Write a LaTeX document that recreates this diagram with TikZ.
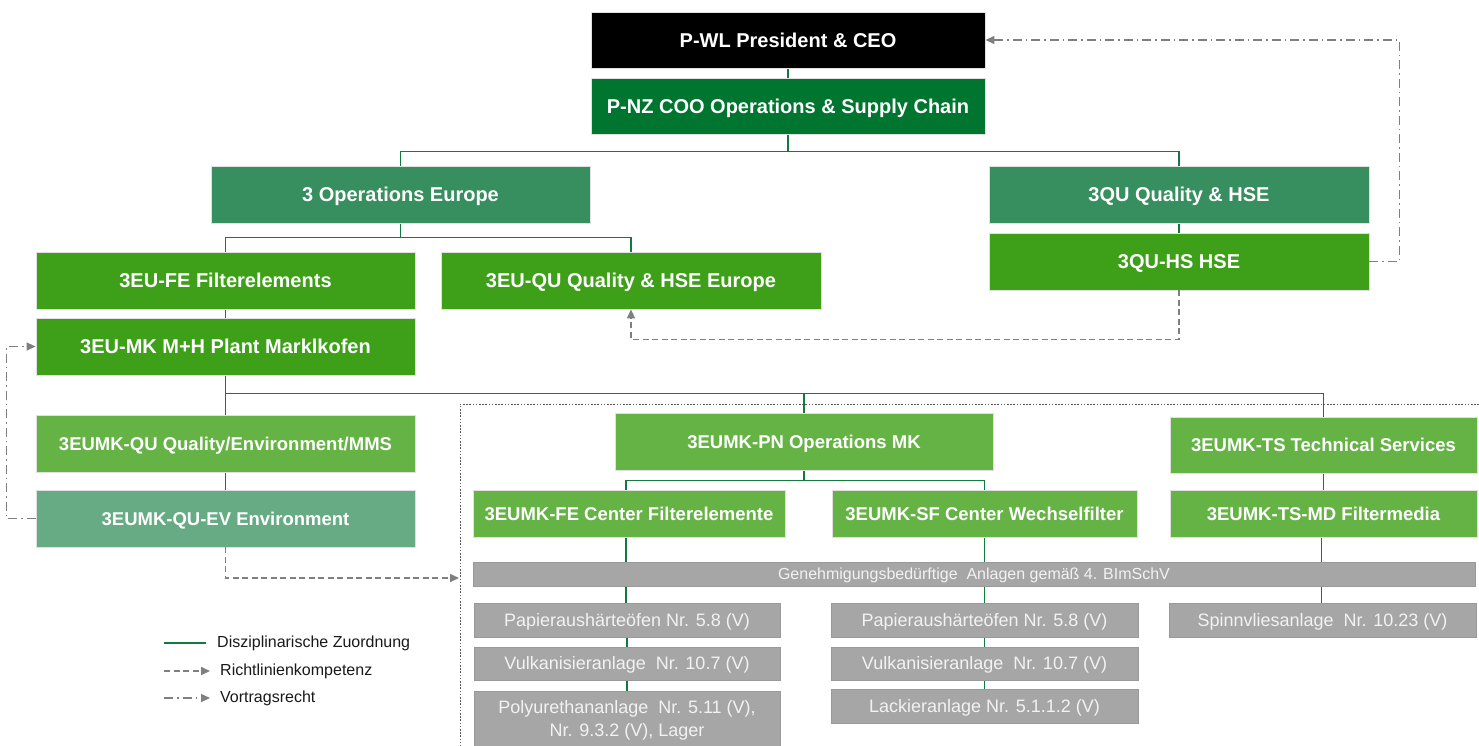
\documentclass[tikz,border=0pt]{standalone}
\usepackage{fontspec}
\setmainfont{Liberation Sans}
\usetikzlibrary{arrows.meta,backgrounds}

\definecolor{ceoblack}{HTML}{000000}
\definecolor{coogreen}{HTML}{007530}
\definecolor{divgreen}{HTML}{378E5E}
\definecolor{deptgreen}{HTML}{3EA018}
\definecolor{unitgreen}{HTML}{65B344}
\definecolor{envgreen}{HTML}{67AB85}
\definecolor{plantgrey}{HTML}{A6A6A6}
\definecolor{linegreen}{HTML}{127A3C}
\definecolor{arrowgrey}{HTML}{7F7F7F}
\definecolor{framegrey}{HTML}{595959}

\tikzset{
  orgbox/.style={draw=black!12, line width=0.8pt, text=white, inner sep=0pt, align=center,
    font=\fontsize{20}{24}\selectfont\bfseries, text height=14.3pt, text depth=0pt},
  unitbox/.style={orgbox, fill=unitgreen, font=\fontsize{18.5}{22}\selectfont\bfseries,
    text height=13.2pt, text depth=0pt},
  plantbase/.style={draw=black!40, line width=0.8pt, fill=plantgrey, text=white!95!black,
    inner sep=0pt, align=center, font=\fontsize{18}{23}\selectfont},
  plantbox/.style={plantbase, text height=12.9pt, text depth=0pt},
  orgline/.style={draw=linegreen, line width=1.5pt},
  policy/.style={draw=arrowgrey, line width=1.6pt, dash pattern=on 6pt off 3.5pt,
    -{Triangle[length=9pt,width=8pt]}},
  report/.style={draw=arrowgrey, line width=1.4pt, dash pattern=on 9pt off 4pt on 1.5pt off 4pt,
    -{Triangle[length=9pt,width=8pt]}},
  legendtext/.style={anchor=west, inner sep=0pt, text=black!90, font=\fontsize{16}{19}\selectfont,
    text height=11.5pt, text depth=0pt}
}

\begin{document}
\begin{tikzpicture}[x=1pt,y=-1pt]
\useasboundingbox (0,0) rectangle (1479,746);

% management levels
\node[orgbox, fill=ceoblack, minimum width=394, minimum height=56] (ceo) at (788,40) {P-WL President \& CEO};
\node[orgbox, fill=coogreen, minimum width=394, minimum height=56] (coo) at (788,106) {P-NZ COO Operations \& Supply Chain};
\node[orgbox, fill=divgreen, minimum width=379, minimum height=57] (ops) at (400.5,194.5) {3 Operations Europe};
\node[orgbox, fill=divgreen, minimum width=380, minimum height=57] (qu) at (1179,194.5) {3QU Quality \& HSE};
\node[orgbox, fill=deptgreen, minimum width=380, minimum height=57] (hse) at (1179,261.5) {3QU-HS HSE};
\node[orgbox, fill=deptgreen, minimum width=379, minimum height=57] (fe) at (225.5,280.5) {3EU-FE Filterelements};
\node[orgbox, fill=deptgreen, minimum width=380, minimum height=57] (euqu) at (631,280.5) {3EU-QU Quality \& HSE Europe};
\node[orgbox, fill=deptgreen, minimum width=379, minimum height=57] (mk) at (225.5,346.5) {3EU-MK M+H Plant Marklkofen};

% plant units
\node[unitbox, minimum width=379, minimum height=57] (mkqu) at (225.5,443.5) {3EUMK-QU Quality/Environment/MMS};
\node[unitbox, fill=envgreen, minimum width=379, minimum height=57] (ev) at (225.5,518.5) {3EUMK-QU-EV Environment};
\node[unitbox, minimum width=378, minimum height=57] (pn) at (804,441.5) {3EUMK-PN Operations MK};
\node[unitbox, minimum width=307, minimum height=56] (ts) at (1323.5,445) {3EUMK-TS Technical Services};
\node[unitbox, minimum width=312, minimum height=47] (fec) at (629,513.5) {3EUMK-FE Center Filterelemente};
\node[unitbox, minimum width=305, minimum height=47] (sfc) at (984.5,513.5) {3EUMK-SF Center Wechselfilter};
\node[unitbox, minimum width=307, minimum height=47] (tsmd) at (1323.5,513.5) {3EUMK-TS-MD Filtermedia};

% installations requiring a permit
\node[plantbox, minimum width=1002, minimum height=24, font=\fontsize{16}{19}\selectfont, text height=11.5pt] (bar) at (974,574)
  {Genehmigungsbedürftige~ Anlagen gemäß 4. BImSchV};
\node[plantbox, minimum width=306, minimum height=34] (pa) at (627,620) {Papieraushärteöfen Nr. 5.8 (V)};
\node[plantbox, minimum width=306, minimum height=33] (va) at (627,663.5) {Vulkanisieranlage~ Nr. 10.7 (V)};
\node[plantbase, minimum width=306, minimum height=58] (poly) at (627,720) {Polyurethananlage~ Nr. 5.11 (V),\\Nr. 9.3.2 (V), Lager};
\node[plantbox, minimum width=307, minimum height=34] (pb) at (984.5,620) {Papieraushärteöfen Nr. 5.8 (V)};
\node[plantbox, minimum width=307, minimum height=33] (vb) at (984.5,663.5) {Vulkanisieranlage~ Nr. 10.7 (V)};
\node[plantbox, minimum width=307, minimum height=34] (lack) at (984.5,706) {Lackieranlage Nr. 5.1.1.2 (V)};
\node[plantbox, minimum width=307, minimum height=34] (spinn) at (1322.5,620) {Spinnvliesanlage~ Nr. 10.23 (V)};

% legend
\coordinate (lga) at (164,643); \coordinate (lgb) at (206,643);
\coordinate (lda) at (164,671); \coordinate (ldb) at (210,671);
\coordinate (lra) at (164,698); \coordinate (lrb) at (210,698);
\node[legendtext] (lgt) at (217,642) {Disziplinarische Zuordnung};
\node[legendtext] (ldt) at (220,670) {Richtlinienkompetenz};
\node[legendtext] (lrt) at (220,697) {Vortragsrecht};

% edge of the permitted-installations area
\coordinate (frametr) at (1479,404);
\coordinate (frametl) at (460,404);
\coordinate (framebl) at (460,750);
\coordinate (frameentry) at (459,578);

\begin{scope}[on background layer]
  \draw[framegrey, line width=0.8pt, dash pattern=on 1.6pt off 1.6pt] (frametr) -- (frametl) -- (framebl);

  % disciplinary lines
  \draw[orgline] (ceo.south) -- (coo.north);
  \draw[orgline] (coo.south) -- ++(0,17) -| (ops.north);
  \draw[orgline] (coo.south) -- ++(0,17) -| (qu.north);
  \draw[orgline] (qu.south) -- (hse.north);
  \draw[orgline] (ops.south) -- ++(0,14) -| (fe.north);
  \draw[orgline] (ops.south) -- ++(0,14) -| (euqu.north);
  \draw[orgline] (fe.south) -- (mk.north);
  \draw[orgline] (mk.south) -- (mkqu.north);
  \draw[orgline] (mk.south) -- ++(0,18) -| (pn.north);
  \draw[orgline] (mk.south) -- ++(0,18) -| (ts.north);
  \draw[orgline] (mkqu.south) -- (ev.north);
  \draw[orgline] (pn.south) -- ++(0,10) -| ([xshift=-3pt]fec.north);
  \draw[orgline] (pn.south) -- ++(0,10) -| (sfc.north);
  \draw[orgline] (ts.south) -- (tsmd.north);
  \draw[orgline] ([xshift=-3pt]fec.south) -- ([xshift=-3pt]fec.south |- pa.north);
  \draw[orgline] (pa.south) -- (va.north);
  \draw[orgline] (va.south) -- (poly.north);
  \draw[orgline] (sfc.south) -- (pb.north);
  \draw[orgline] (pb.south) -- (vb.north);
  \draw[orgline] (vb.south) -- (lack.north);
  \draw[orgline] ([xshift=-2pt]tsmd.south) -- ([xshift=-2pt]tsmd.south |- spinn.north);
\end{scope}

% guideline authority
\draw[policy] (hse.south) -- ++(0,49) -| (euqu.south);
\draw[policy] (ev.south) |- (frameentry);

% right to report
\draw[report] (hse.east) -- ++(30,0) |- (ceo.east);
\draw[report] (ev.west) -- ++(-29,0) |- (mk.west);

% legend lines
\draw[orgline] (lga) -- (lgb);
\draw[policy] (lda) -- (ldb);
\draw[report] (lra) -- (lrb);
\end{tikzpicture}
\end{document}
